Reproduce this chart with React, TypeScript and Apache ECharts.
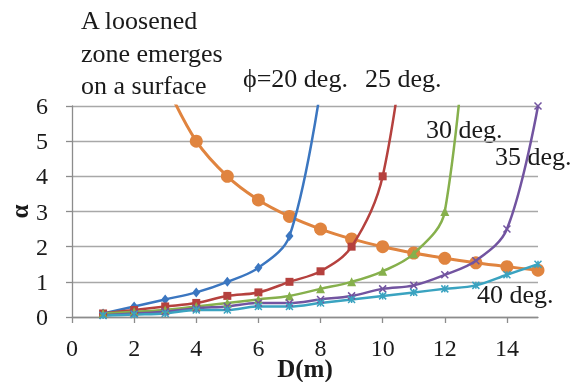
import React, { useEffect, useRef } from "react";
import * as echarts from "echarts";

const xValues = [1, 2, 3, 4, 5, 6, 7, 8, 9, 10, 11, 12, 13, 14, 15];
const phi20 = [0.1, 0.3, 0.5, 0.7, 1.0, 1.4, 2.3, 6.5];
const phi25 = [0.1, 0.2, 0.3, 0.4, 0.6, 0.7, 1.0, 1.3, 2.0, 4.0, 10];
const phi30 = [0.1, 0.15, 0.2, 0.3, 0.4, 0.5, 0.6, 0.8, 1.0, 1.3, 1.8, 3.0, 12];
const phi35 = [0.05, 0.1, 0.15, 0.25, 0.3, 0.4, 0.4, 0.5, 0.6, 0.8, 0.9, 1.2, 1.6, 2.5, 6.0];
const phi40 = [0.04, 0.07, 0.1, 0.2, 0.2, 0.3, 0.3, 0.4, 0.5, 0.6, 0.7, 0.8, 0.9, 1.2, 1.5];
const loosenedX = [3, 4, 5, 6, 7, 8, 9, 10, 11, 12, 13, 14, 15];
const loosened = [6.67, 5.0, 4.0, 3.33, 2.86, 2.5, 2.22, 2.0, 1.82, 1.67, 1.54, 1.43, 1.33];
const xTicks = [0, 2, 4, 6, 8, 10, 12, 14];

const FONT = '"Liberation Serif", "Times New Roman", serif';

const zip = (xs: number[], ys: number[]) => ys.map((y, i) => [xs[i], y]);

const COLORS = {
  c20: "#3b76c0",
  c25: "#b5413e",
  c30: "#86b04c",
  c35: "#7254a0",
  c40: "#3aa3c0",
  loose: "#e0843f",
};

export default function App() {
  const ref = useRef<HTMLDivElement>(null);
  useEffect(() => {
    if (!ref.current) return;
    const chart = echarts.init(ref.current, undefined, { renderer: "svg" });
    const txt = (text: string, x: number, y: number) => ({
      type: "text",
      x,
      y,
      silent: true,
      style: {
        text,
        font: `26px ${FONT}`,
        fill: "#1a1a1a",
        align: "left",
        verticalAlign: "middle",
      },
    });
    const lineSeries = (name: string, data: number[][], color: string, symbol: string, size: any, extra: any = {}) => ({
      name,
      type: "line",
      data,
      smooth: 0.35,
      symbol,
      symbolSize: size,
      showSymbol: true,
      lineStyle: { color, width: 2.5 },
      itemStyle: { color, ...(extra.itemStyle || {}) },
      emphasis: { disabled: true },
      silent: true,
      clip: true,
      z: extra.z ?? 2,
    });
    chart.setOption({
      animation: false,
      grid: { left: 72, right: 35, top: 106, bottom: 65, containLabel: false, outerBoundsMode: "none" },
      xAxis: {
        type: "value",
        min: 0,
        max: 15,
        interval: 2,
        splitLine: { show: false },
        axisLine: { lineStyle: { color: "#8c8c8c", width: 1.3 } },
        axisTick: { customValues: xTicks, length: 6, lineStyle: { color: "#8c8c8c", width: 1.3 } },
        axisLabel: { customValues: xTicks, margin: 21, fontSize: 24, lineHeight: 20, color: "#1a1a1a", fontFamily: FONT },
        name: "D(m)",
        nameLocation: "middle",
        nameMoveOverlap: false,
        nameGap: 41,
        nameTextStyle: { fontSize: 25, lineHeight: 20, fontWeight: "bold", color: "#1a1a1a", fontFamily: FONT },
      },
      yAxis: {
        type: "value",
        min: 0,
        max: 6,
        interval: 1,
        splitLine: { show: true, lineStyle: { color: "#a8a8a8", width: 1.3 } },
        axisLine: { show: true, lineStyle: { color: "#8c8c8c", width: 1.3 } },
        axisTick: { show: true, length: 6, lineStyle: { color: "#8c8c8c", width: 1.3 } },
        axisLabel: { margin: 24, fontSize: 24, color: "#1a1a1a", fontFamily: FONT },
        name: "α",
        nameLocation: "middle",
        nameMoveOverlap: false,
        nameRotate: 90,
        nameGap: 40,
        nameTextStyle: { fontSize: 25, fontWeight: "bold", color: "#1a1a1a", fontFamily: FONT },
      },
      series: [
        {
          ...lineSeries("A loosened zone emerges on a surface", zip(loosenedX, loosened), COLORS.loose, "circle", 13),
          lineStyle: { color: COLORS.loose, width: 3 },
          z: 1,
        },
        lineSeries("φ=20 deg.", zip(xValues, phi20), COLORS.c20, "diamond", [8, 10]),
        lineSeries("25 deg.", zip(xValues, phi25), COLORS.c25, "rect", 8),
        lineSeries("30 deg.", zip(xValues, phi30), COLORS.c30, "triangle", 9),
        lineSeries("35 deg.", zip(xValues, phi35), COLORS.c35, "path://M0,0L10,10M10,0L0,10", 7, {
          itemStyle: { borderColor: COLORS.c35, borderWidth: 1.5 },
        }),
        lineSeries("40 deg.", zip(xValues, phi40), COLORS.c40, "path://M0,0L10,10M10,0L0,10M5,0L5,10", 7, {
          itemStyle: { borderColor: COLORS.c40, borderWidth: 1.5 },
        }),
      ],
      graphic: [
        txt("A loosened", 81, 20),
        txt("zone emerges", 81, 53),
        txt("on a surface", 81, 85),
        txt("ϕ=20 deg.", 243, 78),
        txt("25 deg.", 365, 78),
        txt("30 deg.", 426, 129),
        txt("35 deg.", 495, 156),
        txt("40 deg.", 477, 294),
      ],
    });
    return () => chart.dispose();
  }, []);
  return <div ref={ref} style={{ position: "fixed", left: 0, top: 0, width: 573, height: 382 }} />;
}
